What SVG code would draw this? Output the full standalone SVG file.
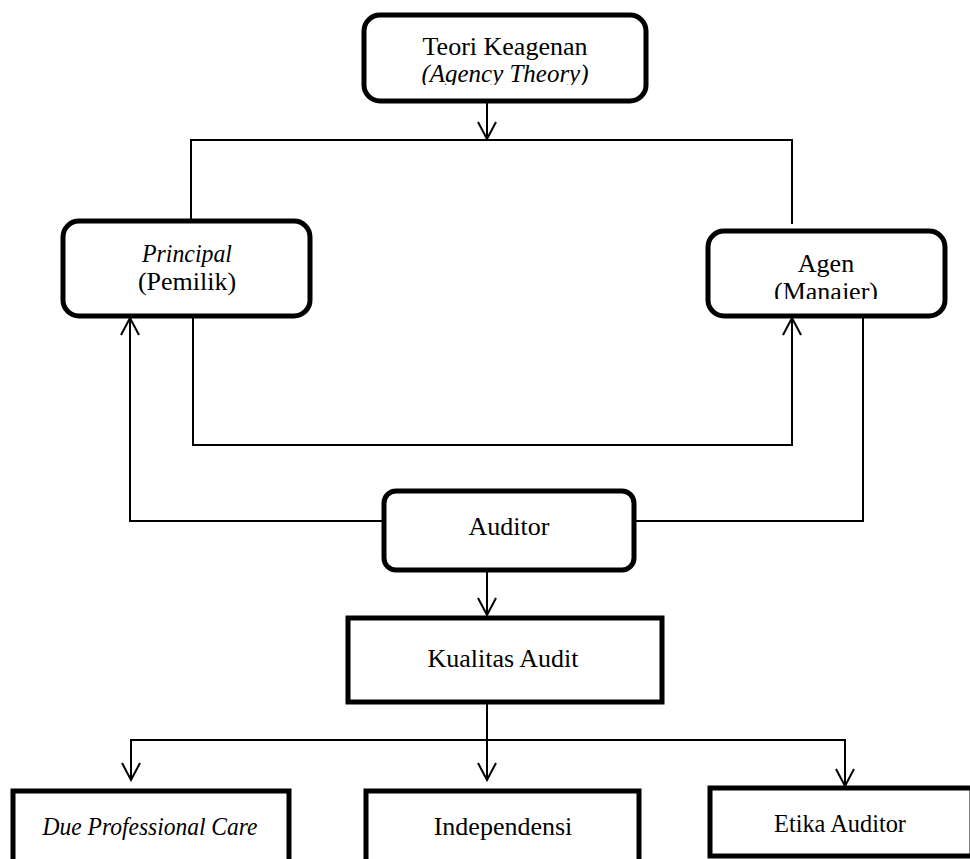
<svg xmlns="http://www.w3.org/2000/svg" width="970" height="859" viewBox="0 0 970 859">
<style>
.box{fill:#fff;stroke:#000;stroke-width:5}
.t{font-family:"Liberation Serif","Times New Roman",serif;font-size:26px;fill:#000;text-anchor:middle}
.i{font-style:italic}
.c{fill:none;stroke:#000;stroke-width:2}
</style>
<defs>
<marker id="ah" viewBox="0 0 20 20" refX="18" refY="10" markerWidth="20" markerHeight="20" markerUnits="userSpaceOnUse" orient="auto">
<path d="M1,1 L18,10 L1,19" fill="none" stroke="#000" stroke-width="2"/>
</marker>
<clipPath id="clipTop"><rect x="360" y="10" width="300" height="75"/></clipPath>
<clipPath id="clipAgen"><rect x="700" y="225" width="250" height="74"/></clipPath>
</defs>
<g id="connectors">
<line class="c" x1="487" y1="102" x2="487" y2="139" marker-end="url(#ah)"/>
<polyline class="c" points="191,220 191,140 792,140 792,224"/>
<polyline class="c" points="383,521 130,521 130,318" marker-end="url(#ah)"/>
<polyline class="c" points="193,316 193,445 792,445 792,318" marker-end="url(#ah)"/>
<polyline class="c" points="863,316 863,521 634,521"/>
<line class="c" x1="487" y1="570" x2="487" y2="615" marker-end="url(#ah)"/>
<line class="c" x1="487" y1="702" x2="487" y2="780" marker-end="url(#ah)"/>
<polyline class="c" points="131,780 131,740 845,740 845,786" marker-end="url(#ah)"/>
<path class="c" d="M131,741 L131,780" marker-end="url(#ah)"/>
</g>
<g id="teori">
<rect class="box" x="364" y="15" width="282" height="86" rx="16"/>
<g clip-path="url(#clipTop)">
<text class="t" x="505" y="55">Teori Keagenan</text>
<text class="t i" x="505" y="82" textLength="167" lengthAdjust="spacingAndGlyphs">(Agency Theory)</text>
</g>
</g>
<g id="principal">
<rect class="box" x="63" y="221" width="247" height="95" rx="16"/>
<text class="t i" x="187" y="262" textLength="90" lengthAdjust="spacingAndGlyphs">Principal</text>
<text class="t" x="187" y="290">(Pemilik)</text>
</g>
<g id="agen">
<rect class="box" x="708" y="231" width="237" height="85" rx="16"/>
<g clip-path="url(#clipAgen)">
<text class="t" x="826" y="272">Agen</text>
<text class="t" x="826" y="300">(Manajer)</text>
</g>
</g>
<g id="auditor">
<rect class="box" x="384" y="491" width="250" height="79" rx="12"/>
<text class="t" x="509" y="535">Auditor</text>
</g>
<g id="kualitas">
<rect class="box" x="348" y="618" width="314" height="84"/>
<text class="t" x="503" y="667">Kualitas Audit</text>
</g>
<g id="due">
<rect class="box" x="13" y="791" width="276" height="80"/>
<text class="t i" x="150" y="835" textLength="215" lengthAdjust="spacingAndGlyphs">Due Professional Care</text>
</g>
<g id="independensi">
<rect class="box" x="366" y="791" width="273" height="80"/>
<text class="t" x="503" y="835">Independensi</text>
</g>
<g id="etika">
<rect class="box" x="710" y="788" width="262" height="68"/>
<text class="t" x="840" y="832" textLength="132" lengthAdjust="spacingAndGlyphs">Etika Auditor</text>
</g>
</svg>
